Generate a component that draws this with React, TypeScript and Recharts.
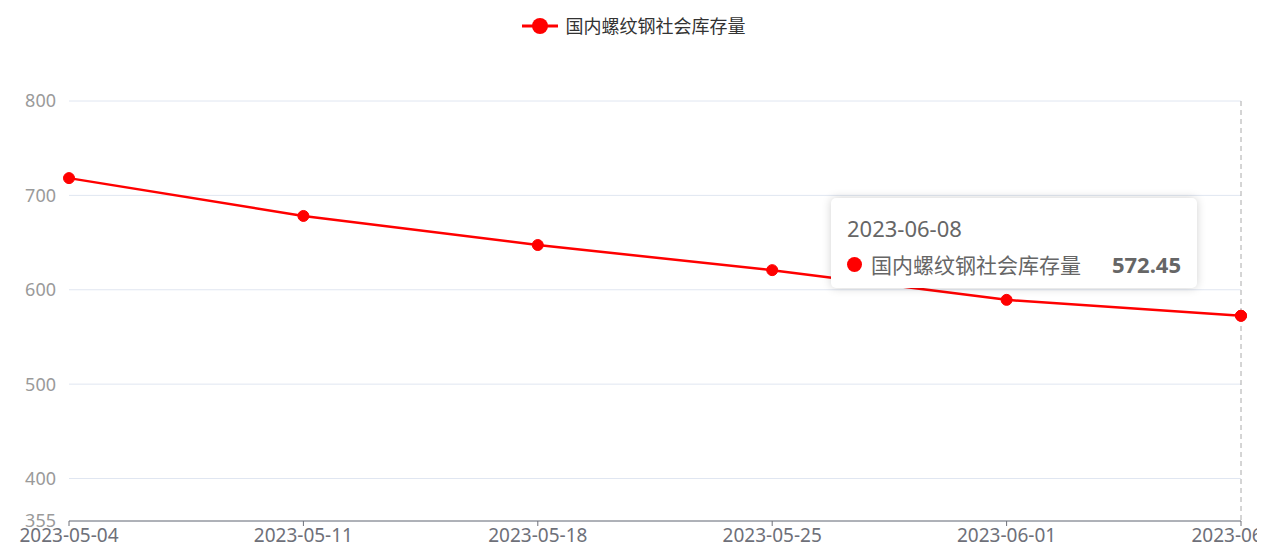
import React from "react"
import { LineChart, Line, XAxis, YAxis, CartesianGrid, Tooltip, Legend } from "recharts"

const dates = ["2023-05-04", "2023-05-11", "2023-05-18", "2023-05-25", "2023-06-01", "2023-06-08"]
const stock = [718.3, 678.2, 647.4, 620.8, 589.3, 572.45]
const yTicks = [355, 400, 500, 600, 700, 800]
const seriesName = "国内螺纹钢社会库存量"

const data = dates.map((d, i) => ({ date: d, value: stock[i] }))

const FONT = "'Noto Sans', 'Noto Sans CJK SC', sans-serif"

// fixed height so the legend offset stays predictable
const LegendContent = () => (
  <div
    style={{
      height: 24,
      paddingLeft: 9,
      display: "flex",
      justifyContent: "center",
      alignItems: "center",
      fontFamily: FONT,
    }}
  >
    <svg width={38} height={20} style={{ marginRight: 7 }}>
      <line x1={1} y1={10} x2={37} y2={10} stroke="#ff0000" strokeWidth={3} />
      <circle cx={19} cy={10} r={8} fill="#ff0000" />
    </svg>
    <span style={{ fontSize: 18, lineHeight: "24px", color: "#333" }}>{seriesName}</span>
  </div>
)

const TooltipContent = ({ active, payload, label }: any) => {
  if (!active || !payload || !payload.length) return null
  return (
    <div
      style={{
        width: 366,
        height: 90,
        boxSizing: "border-box",
        background: "#fff",
        borderRadius: 5,
        boxShadow: "0 0 10px rgba(0,0,0,0.18)",
        padding: "16px 16px 0 16px",
        fontFamily: FONT,
        color: "#666",
      }}
    >
      <div style={{ fontSize: 22, lineHeight: "28px" }}>{label}</div>
      <div style={{ display: "flex", alignItems: "center", marginTop: 8, height: 28 }}>
        <span
          style={{ width: 15, height: 15, borderRadius: 8, background: "#ff0000", display: "inline-block", marginRight: 9 }}
        />
        <span style={{ fontSize: 21 }}>{payload[0].name}</span>
        <span style={{ marginLeft: "auto", fontSize: 22, fontWeight: 700 }}>{payload[0].value}</span>
      </div>
    </div>
  )
}

export default function App() {
  return (
    <div style={{ position: "absolute", left: 0, top: 0, width: 1257, height: 554, overflow: "hidden", background: "#fff" }}>
      <LineChart width={1257} height={554} data={data} margin={{ top: 77, right: 16, bottom: 0, left: 0 }}>
        <CartesianGrid horizontal vertical={false} stroke="#e0e6f1" />
        <XAxis
          dataKey="date"
          interval={0}
          height={33}
          tickSize={5}
          tickMargin={3}
          stroke="#6e7079"
          tick={{ fill: "#6e7079", fontSize: 19, fontFamily: FONT }}
          padding={{ left: 0, right: 0 }}
        />
        <YAxis
          type="number"
          domain={[355, 800]}
          ticks={yTicks}
          interval={0}
          width={69}
          axisLine={false}
          tickLine={false}
          tickMargin={7}
          tick={{ fill: "#9a9a9a", fontSize: 18, fontFamily: FONT }}
        />
        <Legend verticalAlign="top" wrapperStyle={{ top: 14, left: 0, width: 1257 }} content={<LegendContent />} />
        <Tooltip
          defaultIndex={5}
          active={true}
          position={{ x: 831, y: 198 }}
          content={<TooltipContent />}
          cursor={{ stroke: "#aaa", strokeWidth: 1, strokeDasharray: "5 4" }}
          isAnimationActive={false}
        />
        <Line
          type="linear"
          dataKey="value"
          name={seriesName}
          stroke="#ff0000"
          strokeWidth={2.5}
          dot={{ r: 5.5, fill: "#ff0000", stroke: "#ff0000", strokeWidth: 1 }}
          activeDot={{ r: 5.5, fill: "#ff0000", stroke: "#ff0000", strokeWidth: 1 }}
          isAnimationActive={false}
        />
      </LineChart>
    </div>
  )
}
